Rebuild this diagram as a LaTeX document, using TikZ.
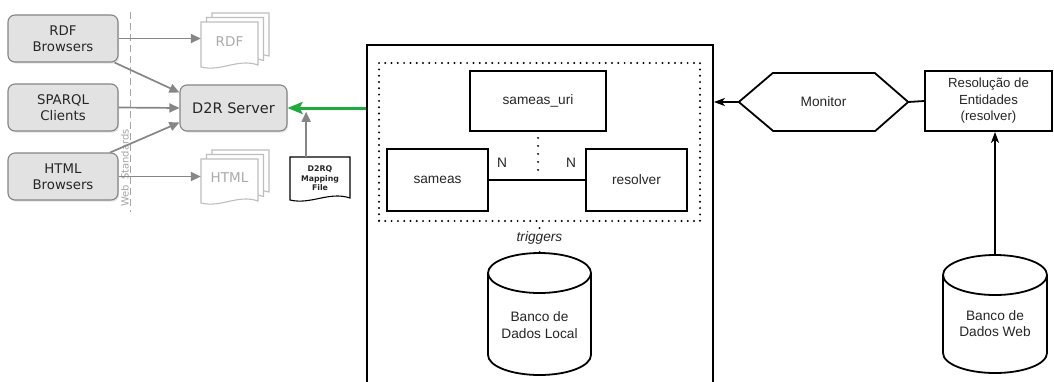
\documentclass[tikz,border=0pt]{standalone}
\usepackage{fontspec}
\setmainfont{Liberation Sans}
\newfontfamily\dejavu{DejaVu Sans}
\usetikzlibrary{arrows.meta,calc,shadows}
\definecolor{garr}{HTML}{868686}
\definecolor{gfill}{HTML}{E2E2E2}
\definecolor{gline}{HTML}{858585}
\definecolor{dgreen}{HTML}{1FAA3C}
\definecolor{doclin}{HTML}{BEBEBE}
\definecolor{doctxt}{HTML}{ABABAB}
\newcommand\pagepath[4]{({#1},{-(#2)}) -- ({#3},{-(#2)}) -- ({#3},{-(#4-2)}) .. controls ({#3-0.35*(#3-#1)},{-(#4-9)}) and ({#1+0.35*(#3-#1)},{-(#4+5)}) .. ({#1},{-(#4)}) -- cycle}
\newcommand\cylpath[5]{%
  \fill[white] ({#1-#4},{-(#2+#5)}) -- ({#1-#4},{-(#3-#5)}) arc[start angle=180, end angle=360, x radius=#4, y radius=#5] -- ({#1+#4},{-(#2+#5)}) arc[start angle=0, end angle=180, x radius=#4, y radius=#5] -- cycle;
  \draw[blk] ({#1-#4},{-(#2+#5)}) -- ({#1-#4},{-(#3-#5)}) arc[start angle=180, end angle=360, x radius=#4, y radius=#5] -- ({#1+#4},{-(#2+#5)});
  \draw[blk] ({#1},{-(#2+#5)}) ellipse[x radius=#4, y radius=#5];}
\begin{document}
\begin{tikzpicture}[x=1pt,y=1pt,
 gbox/.style={draw=gline, fill=gfill, rounded corners=7pt, line width=1.1pt, align=center, inner sep=0pt, minimum width=110pt, minimum height=47pt, font=\dejavu\fontsize{13.3}{16}\selectfont, text=black!85, drop shadow={opacity=0.22, shadow xshift=1.2pt, shadow yshift=-1.6pt}},
 garrow/.style={draw=garr, line width=1.7pt, -{Triangle[length=10pt,width=9pt]}},
 greenarrow/.style={draw=dgreen, line width=3pt, -{Stealth[length=15pt,width=12pt,inset=3pt]}},
 rbox/.style={draw=black, line width=1.8pt, align=center, inner sep=0pt, font=\fontsize{13.7}{16.5}\selectfont, text=black!85},
 rtext/.style={align=center, inner sep=0pt, font=\fontsize{13.7}{16.5}\selectfont, text=black!85},
 blk/.style={draw=black, line width=1.8pt},
 barrow/.style={blk, -{Stealth[length=11pt,width=8pt,inset=3pt]}},
 dotrect/.style={draw=black, line width=2.2pt, dash pattern=on 0pt off 6.3pt, line cap=round},
 dotline/.style={draw=black, line width=2.2pt, dash pattern=on 0pt off 8pt, line cap=round},
 docline/.style={draw=doclin, line width=1.1pt, fill=white},
 doclabel/.style={inner sep=0pt, font=\dejavu\fontsize{13.5}{16}\selectfont, text=doctxt},
]
\useasboundingbox (0,0) rectangle (1054,-381);
\clip (0,0) rectangle (1054,-381);
\fill[white] (0,0) rectangle (1054,-381);

% ---------- left part ----------
\draw[draw=black!35, line width=1pt, dash pattern=on 7pt off 4pt] (130,-12) -- (130,-212);
\node[rotate=90, inner sep=0pt, text=black!35, font=\dejavu\fontsize{10}{12}\selectfont] (ws) at (126,-168) {Web\_Standards};

\node[gbox] (rdfb) at (63,-38.5) {RDF\\Browsers};
\node[gbox] (sparql) at (63,-107.5) {SPARQL\\Clients};
\node[gbox] (htmlb) at (63,-176.5) {HTML\\Browsers};
\node[gbox, minimum width=107pt, minimum height=46pt, font=\dejavu\fontsize{14.5}{17}\selectfont] (d2r) at (233.5,-108) {D2R Server};

% document stacks
\foreach \dx/\dy in {11/-9, 5.5/-4.5, 0/0}{
  \draw[docline] \pagepath{201+\dx}{22+\dy}{258+\dx}{67+\dy};
  \draw[docline] \pagepath{201+\dx}{159+\dy}{258+\dx}{203+\dy};
}
\node[doclabel, minimum width=57pt, minimum height=42pt] (rdfdoc) at (229.5,-42) {RDF};
\node[doclabel, minimum width=57pt, minimum height=42pt] (htmldoc) at (229.5,-178) {HTML};

\draw[draw=black, line width=1.1pt, fill=white] \pagepath{290}{157}{350}{200};
\node[inner sep=0pt, minimum width=60pt, minimum height=43pt, align=center, font=\dejavu\bfseries\fontsize{7.8}{9.5}\selectfont, text=black!85] (d2rq) at (320,-178.5) {D2RQ\\Mapping\\File};

\draw[garrow] (rdfb.east) -- (rdfb.east -| rdfdoc.west);
\draw[garrow] (rdfb.-25) -- (d2r.164);
\draw[garrow] (sparql.east) -- (d2r.west);
\draw[garrow] (htmlb.27) -- (d2r.195);
\draw[garrow] (htmlb.east) -- (htmlb.east -| htmldoc.west);

% ---------- main box ----------
\node[blk, minimum width=346pt, minimum height=420pt, inner sep=0pt] (main) at (540,-255) {};
\coordinate (mainW) at (d2r.east -| main.west);
\coordinate (d2rqtop) at ($(d2rq.north west)!0.27!(d2rq.north east)$);
\coordinate (gtip) at ($(d2rqtop)+(0,45)$);
\draw[garrow] (d2rqtop) -- (gtip);
\draw[greenarrow] (mainW) -- (d2r.east);

\node[dotrect, minimum width=321pt, minimum height=158pt, inner sep=0pt] (grp) at (539.5,-142) {};
\node[rbox, minimum width=136pt, minimum height=60pt] (uri) at (538,-101) {sameas\_uri};
\node[rbox, minimum width=101pt, minimum height=62pt] (sameas) at (437.5,-180) {sameas};
\node[rbox, minimum width=101pt, minimum height=62pt] (resolver) at (636.5,-180) {resolver};
\draw[blk] (sameas.east) -- (resolver.west);
\node[rtext] (n1) at (502,-163) {N};
\node[rtext] (n2) at (571,-163) {N};
\coordinate (dotend) at (uri.south |- 0,-177);
\draw[dotline] ($(uri.south)+(0,-6)$) -- (dotend);

% local database
\cylpath{539.5}{253}{375}{51.5}{20}
\node[minimum width=103pt, minimum height=122pt, inner sep=0pt] (localdb) at (539.5,-314) {};
\node[rtext] (localtxt) at (539.5,-325) {Banco de\\Dados Local};
\draw[dotline] ($(grp.south)+(0,-6)$) -- (localdb.north);
\node[rtext, fill=white, inner sep=1pt, font=\itshape\fontsize{13.7}{16}\selectfont] (trig) at (539.5,-238) {triggers};

% ---------- right part ----------
\node[rtext, minimum width=169pt, minimum height=58pt] (mon) at (823.5,-102) {Monitor};
\draw[blk, line join=miter] (mon.west) -- ++(34,29) -- ++(102,0) -- (mon.east) -- ++(-33,-29) -- ++(-102,0) -- cycle;
\node[rbox, minimum width=127pt, minimum height=60pt, font=\fontsize{13.2}{16.5}\selectfont] (resol) at (988.5,-101) {Resolução de\\Entidades\\(resolver)};
\draw[barrow] (mon.west) -- (mon.west -| main.east);
\draw[blk] (mon.east) -- (resol.west);

\cylpath{995}{255}{373}{52}{20}
\node[minimum width=104pt, minimum height=118pt, inner sep=0pt] (webdb) at (995,-314) {};
\node[rtext] (webtxt) at (995,-323.5) {Banco de\\Dados Web};
\draw[barrow] (webdb.north) -- (webdb.north |- resol.south);
\end{tikzpicture}
\end{document}
